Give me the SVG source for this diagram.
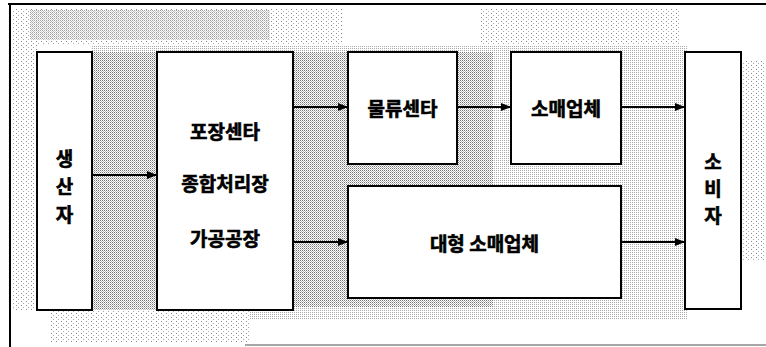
<svg xmlns="http://www.w3.org/2000/svg" width="766" height="347" viewBox="0 0 766 347">
<defs>
<pattern id="dith" width="2" height="2" patternUnits="userSpaceOnUse">
<rect width="2" height="2" fill="#ffffff"/>
<rect x="0" y="0" width="1" height="1" fill="#777"/>
<rect x="1" y="1" width="1" height="1" fill="#bbb"/>
</pattern>
<pattern id="dithL" width="2" height="2" patternUnits="userSpaceOnUse">
<rect width="2" height="2" fill="#ffffff"/>
<rect x="0" y="0" width="1" height="1" fill="#aaa"/>
</pattern>
<pattern id="dithS" width="5" height="4" patternUnits="userSpaceOnUse">
<rect width="5" height="4" fill="#ffffff"/>
<rect x="1" y="1" width="1" height="1" fill="#888"/>
<rect x="3" y="3" width="1" height="1" fill="#aaa"/>
</pattern>
<marker id="ah" markerWidth="10" markerHeight="8" refX="10" refY="4" orient="auto" markerUnits="userSpaceOnUse">
<path d="M0,0 L10,4 L0,8 Z" fill="#000"/>
</marker>
<style>
.box{fill:#fff;stroke:#000;stroke-width:2}
.lbl{font-family:"Noto Sans CJK KR","Noto Sans",sans-serif;font-weight:bold;font-size:19px;fill:#000;stroke:#000;stroke-width:0.6;text-anchor:middle;dominant-baseline:central}
.con{stroke:#000;stroke-width:2;fill:none;marker-end:url(#ah)}
</style>
</defs>
<rect width="766" height="347" fill="#fff"/>
<g id="background">
<rect x="92" y="45" width="595" height="275" fill="url(#dithL)"/>
<rect x="741" y="60" width="25" height="200" fill="url(#dithS)"/>
<rect x="12" y="40" width="25" height="270" fill="url(#dithS)"/>
<rect x="92" y="52" width="65" height="258" fill="url(#dith)"/>
<rect x="293" y="52" width="200" height="255" fill="url(#dith)"/>
<rect x="12" y="8" width="330" height="36" fill="url(#dithS)"/>
<rect x="30" y="10" width="240" height="30" fill="url(#dith)" opacity="0.7"/>
<rect x="480" y="8" width="200" height="36" fill="url(#dithS)"/>
<rect x="50" y="310" width="200" height="33" fill="url(#dithS)"/>
<line x1="8" y1="4" x2="766" y2="4" stroke="#000" stroke-width="2"/>
<line x1="10" y1="4" x2="10" y2="347" stroke="#000" stroke-width="2"/>
<line x1="245" y1="345" x2="766" y2="345" stroke="#888" stroke-width="1.5"/>
</g>
<g id="producer">
<rect class="box" x="37" y="52" width="55" height="258"/>
<text class="lbl" x="64.5" y="157">생</text>
<text class="lbl" x="64.5" y="185">산</text>
<text class="lbl" x="64.5" y="213">자</text>
</g>
<g id="packing">
<rect class="box" x="157" y="52" width="136" height="258"/>
<text class="lbl" x="225" y="130">포장센타</text>
<text class="lbl" x="225" y="182">종합처리장</text>
<text class="lbl" x="225" y="237">가공공장</text>
</g>
<g id="logistics">
<rect class="box" x="348" y="52" width="109" height="112"/>
<text class="lbl" x="402.5" y="107">물류센타</text>
</g>
<g id="retailer">
<rect class="box" x="511" y="52" width="110" height="112"/>
<text class="lbl" x="566" y="107">소매업체</text>
</g>
<g id="large-retailer">
<rect class="box" x="348" y="186" width="273" height="112"/>
<text class="lbl" x="484.5" y="242">대형 소매업체</text>
</g>
<g id="consumer">
<rect class="box" x="685" y="52" width="56" height="257"/>
<text class="lbl" x="713" y="160">소</text>
<text class="lbl" x="713" y="187">비</text>
<text class="lbl" x="713" y="214">자</text>
</g>
<g id="connectors">
<line class="con" x1="92" y1="175" x2="157" y2="175"/>
<line class="con" x1="293" y1="107" x2="348" y2="107"/>
<line class="con" x1="457" y1="107" x2="511" y2="107"/>
<line class="con" x1="621" y1="107" x2="685" y2="107"/>
<line class="con" x1="293" y1="242" x2="348" y2="242"/>
<line class="con" x1="621" y1="242" x2="685" y2="242"/>
</g>
</svg>
